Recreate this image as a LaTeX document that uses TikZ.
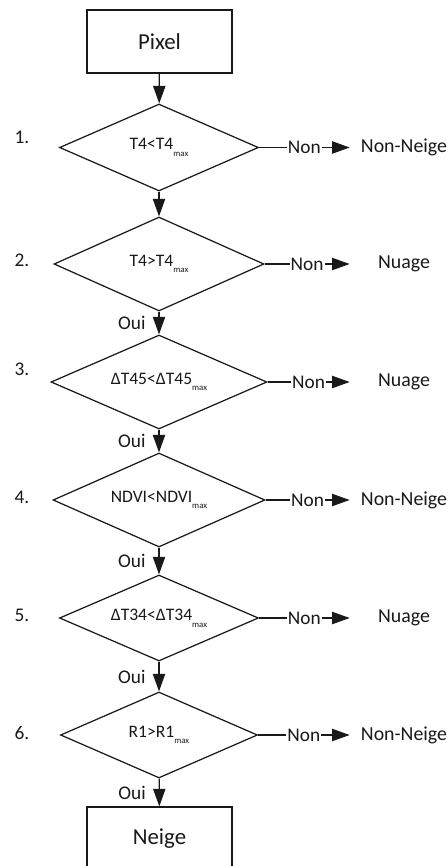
\documentclass[tikz,border=0pt]{standalone}
\usepackage{fontspec}
\setmainfont{Carlito}
\usetikzlibrary{arrows.meta,shapes.geometric}
\definecolor{SnowInk}{RGB}{25,25,25}
\newcommand{\mxsub}{\raisebox{-0.8ex}{\fontsize{5}{6}\selectfont max}}
\tikzset{
  snow/box/.style={
    draw=SnowInk,
    line width=0.7pt,
    fill=white,
    text=SnowInk,
    minimum width=2.9cm,
    minimum height=1.26cm,
    font=\fontsize{13}{15}\selectfont
  },
  snow/test/.style={
    diamond,
    aspect=2.3,
    draw=SnowInk,
    line width=0.7pt,
    fill=white,
    text=SnowInk,
    inner sep=1pt,
    font=\fontsize{10}{12}\selectfont
  },
  snow/result/.style={minimum width=2.16cm, inner sep=0pt, text=SnowInk, font=\fontsize{11.3}{13}\selectfont},
  snow/arrow/.style={-{Triangle[length=10pt,width=7pt]}, line width=0.7pt, draw=SnowInk},
  snow/label/.style={text=SnowInk, font=\fontsize{11}{13}\selectfont},
  snow/non/.style={snow/label, fill=white, inner sep=0.6pt},
  snow/oui/.style={snow/label, midway, left=4pt}
}

\begin{document}
\begin{tikzpicture}[x=0.02cm,y=-0.02cm]
  \useasboundingbox (0,0) rectangle (448,866);

  \node[snow/box] (pixel) at (159.5,41.5) {Pixel};
  \node[snow/box] (neige) at (159.5,838.5) {Neige};

  \foreach \i/\y/\w/\h/\txt in {
      1/147.5/3.98/1.74/{T4<T4\mxsub},
      2/264/4.2/1.88/{T4>T4\mxsub},
      3/382/4.32/1.88/{ΔT45<ΔT45\mxsub},
      4/500/4.24/1.88/{NDVI<NDVI\mxsub},
      5/618/3.98/1.72/{ΔT34<ΔT34\mxsub},
      6/735/3.94/1.72/{R1>R1\mxsub}}{
    \node[snow/test, minimum width=\w cm, minimum height=\h cm] (d\i) at (159,\y) {\txt};
  }

  \foreach \i/\y in {1/137,2/260,3/369,4/497,5/615,6/733}{
    \node[snow/label] (n\i) at (22,\y) {\i.};
  }

  \foreach \i/\y/\res in {1/147.5/Non-Neige,2/264/Nuage,3/382/Nuage,4/500/Non-Neige,5/618/Nuage,6/735/Non-Neige}{
    \node[snow/result] (r\i) at (404,\y) {\res};
  }

  % flow down the tests
  \draw[snow/arrow] (pixel) -- (d1);
  \draw[snow/arrow] (d1) -- (d2);
  \foreach \i/\j in {2/3,3/4,4/5,5/6}{
    \draw[snow/arrow] (d\i) -- node[snow/oui] (oui\i) {Oui} (d\j);
  }
  \draw[snow/arrow] (d6) -- node[snow/oui] (oui6) {Oui} (neige);

  % exits
  \foreach \i in {1,...,6}{
    \draw[snow/arrow] (d\i.east) -- node[snow/non] (non\i) {Non} (r\i.west);
  }
\end{tikzpicture}
\end{document}
